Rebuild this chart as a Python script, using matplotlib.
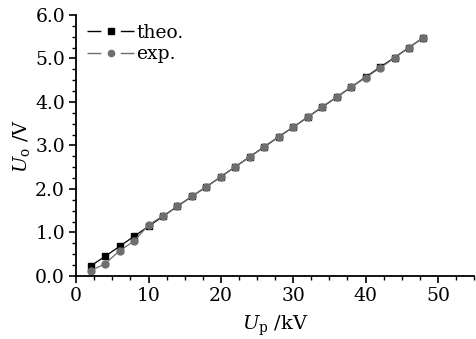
import matplotlib
matplotlib.use("Agg")
import matplotlib.pyplot as plt
from matplotlib.ticker import MultipleLocator, FormatStrFormatter
from matplotlib.lines import Line2D
from matplotlib.legend_handler import HandlerTuple

plt.rcParams['font.family'] = 'DejaVu Serif'
plt.rcParams['mathtext.fontset'] = 'dejavuserif'

up = [2, 4, 6, 8, 10, 12, 14, 16, 18, 20, 22, 24, 26, 28, 30, 32, 34, 36, 38, 40, 42, 44, 46, 48]
theo = [0.23, 0.45, 0.68, 0.91, 1.14, 1.37, 1.60, 1.83, 2.05, 2.28, 2.51, 2.74, 2.97, 3.20,
        3.42, 3.65, 3.88, 4.11, 4.34, 4.57, 4.80, 5.02, 5.25, 5.48]
exp = [0.12, 0.28, 0.58, 0.80, 1.17, 1.38, 1.60, 1.83, 2.05, 2.28, 2.51, 2.74, 2.96, 3.20,
       3.42, 3.65, 3.89, 4.11, 4.34, 4.56, 4.78, 5.01, 5.25, 5.48]

fig = plt.figure(figsize=(4.76, 3.39), dpi=100)
ax = fig.add_axes([0.160, 0.186, 0.836, 0.770])

ax.plot(up, theo, color="black", lw=0.9, marker="s", ms=4.3, mfc="black", mec="black")
ax.plot(up, exp, color="#6e6e6e", lw=0.9, marker="o", ms=5.0, mfc="#6e6e6e", mec="#6e6e6e")

ax.set_xlim(0, 55)
ax.set_ylim(0, 6)
ax.xaxis.set_major_locator(MultipleLocator(10))
ax.xaxis.set_minor_locator(MultipleLocator(2.5))
ax.yaxis.set_major_locator(MultipleLocator(1))
ax.yaxis.set_minor_locator(MultipleLocator(0.25))
ax.yaxis.set_major_formatter(FormatStrFormatter('%.1f'))

for s in ["top", "right"]:
    ax.spines[s].set_visible(False)
for s in ["left", "bottom"]:
    ax.spines[s].set_linewidth(1.3)
ax.tick_params(which="major", direction="out", length=5, width=1.2, labelsize=13.5, pad=3)
ax.tick_params(which="minor", direction="out", length=3, width=1.0)

ax.set_xlabel(r"$U_\mathrm{p}$ /kV", fontsize=14, labelpad=6)
ax.set_ylabel(r"$U_\mathrm{o}$ /V", fontsize=14, labelpad=2)

# legend handles: line broken around the marker
def split_handle(color, marker, ms):
    seg = Line2D([], [], color=color, lw=1.0, dashes=(10, 14, 10, 100))
    mk = Line2D([], [], color=color, ls="none", marker=marker, ms=ms, mfc=color, mec=color)
    return (seg, mk)

handles = [split_handle("black", "s", 4.0), split_handle("#6e6e6e", "o", 4.5)]
ax.legend(handles, ["theo.", "exp."], handler_map={tuple: HandlerTuple(ndivide=1)},
          loc="upper left", frameon=False, fontsize=13.5, handlelength=2.5,
          handletextpad=0.1, labelspacing=0.2, borderaxespad=0.2,
          bbox_to_anchor=(0.0, 1.01))

fig.savefig("out.png", dpi=100)
